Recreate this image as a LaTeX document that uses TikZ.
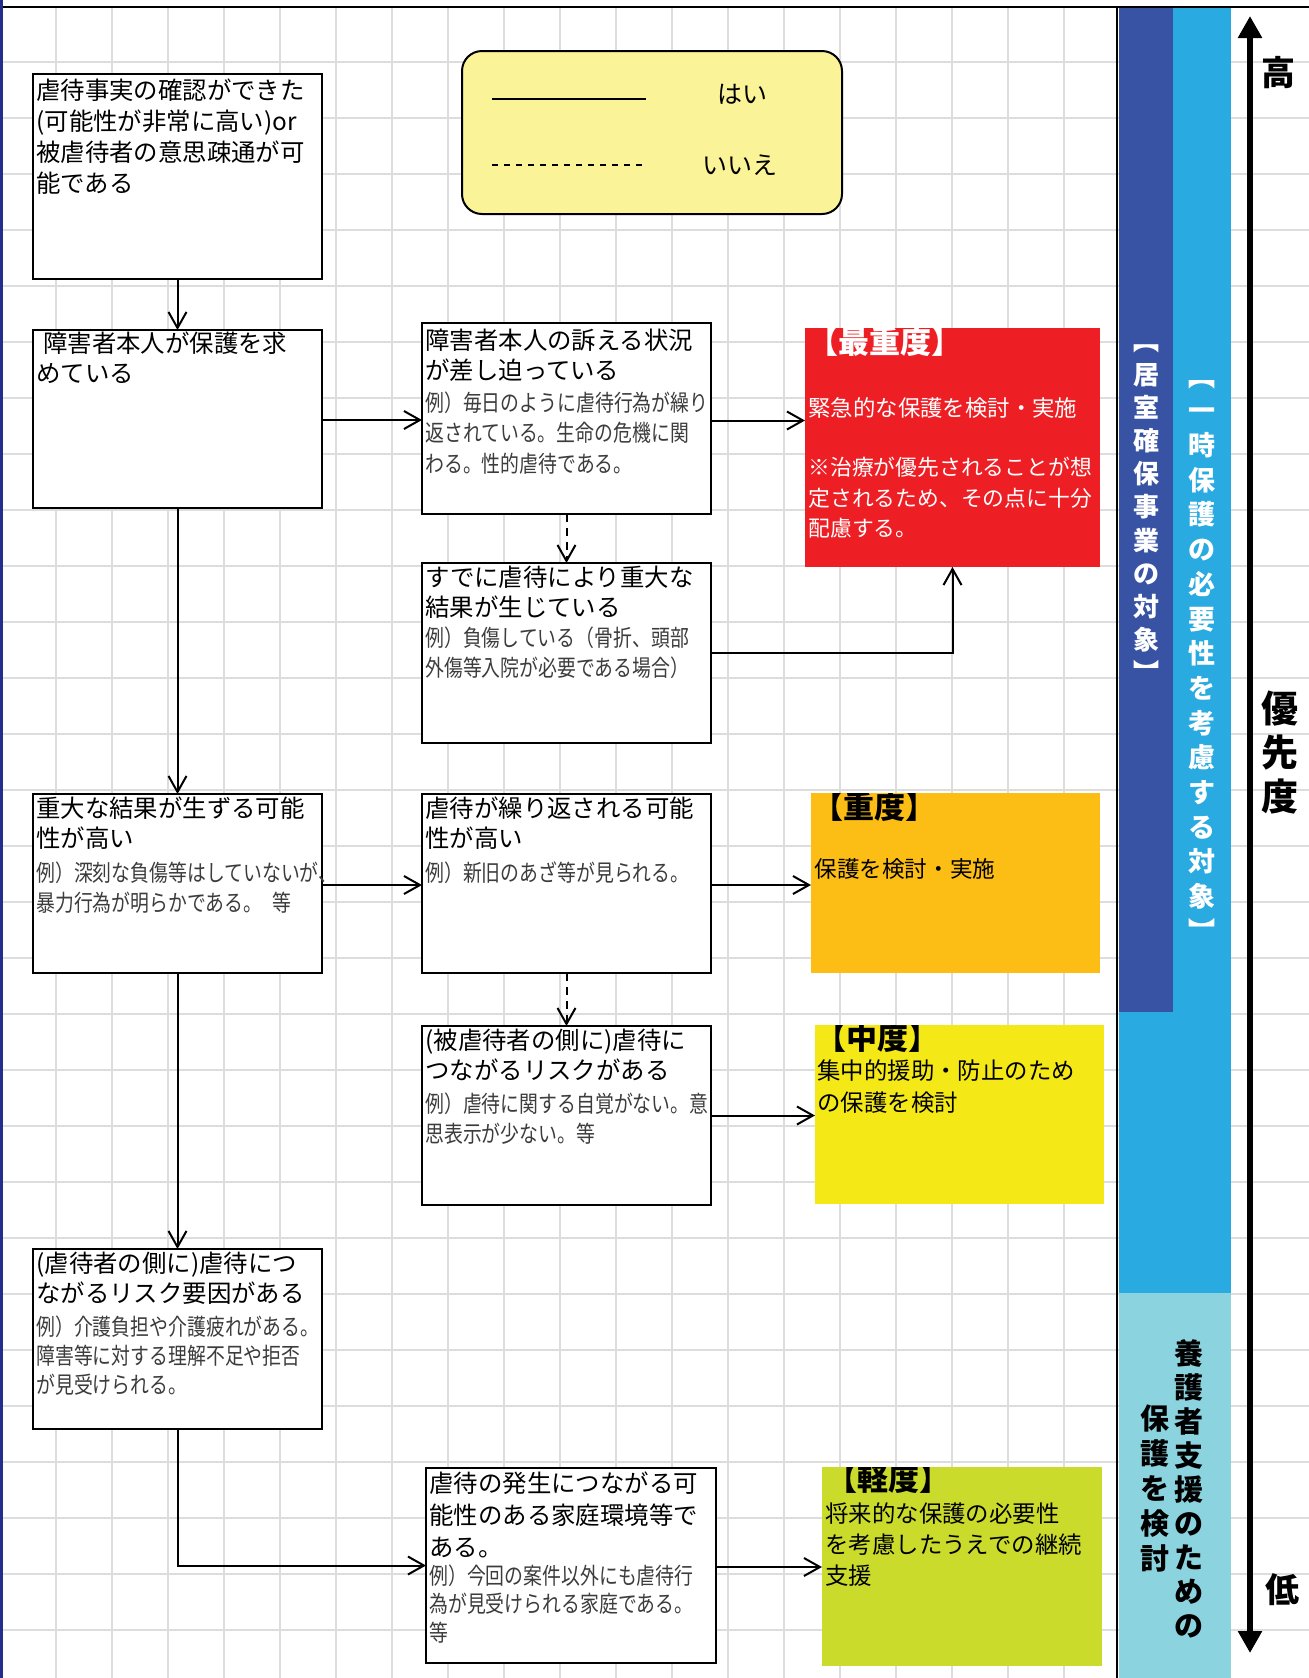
\documentclass[tikz,border=0pt]{standalone}
\usepackage{fontspec}
\usepackage{graphicx}
\setmainfont{Noto Sans CJK JP}
\newfontfamily\exfont[FakeStretch=0.82]{Noto Sans CJK JP}
\usetikzlibrary{arrows.meta}
\definecolor{gridc}{RGB}{221,221,221}
\definecolor{navyc}{RGB}{35,45,140}
\definecolor{redbox}{RGB}{237,30,36}
\definecolor{orangebox}{RGB}{252,190,20}
\definecolor{yellowbox}{RGB}{244,233,22}
\definecolor{greenbox}{RGB}{203,219,43}
\definecolor{legendc}{RGB}{250,243,152}
\definecolor{bandA}{RGB}{57,83,164}
\definecolor{bandB}{RGB}{41,170,225}
\definecolor{bandC}{RGB}{140,211,224}
\definecolor{exgray}{RGB}{60,60,60}
\newcommand\fst{\rule{0pt}{0.88em}}
\newcommand\vst{\rule[-0.12em]{0pt}{1em}}
\begin{document}
\begin{tikzpicture}[x=0.5pt,y=-0.5pt,
  wbox/.style={draw=black, line width=1pt, fill=white, inner sep=0pt, outer sep=0pt},
  cbox/.style={inner sep=0pt, outer sep=0pt},
  head/.style={anchor=north west, inner sep=0pt, align=left, font=\fontsize{12.2}{15}\selectfont},
  exm/.style={anchor=north west, inner sep=0pt, align=left, text=exgray, font=\exfont\fontsize{11.5}{15}\selectfont},
  body/.style={anchor=north west, inner sep=0pt, align=left, font=\fontsize{11.5}{15.3}\selectfont},
  ttl/.style={anchor=north west, inner sep=0pt, font=\bfseries\fontsize{15.5}{18}\selectfont},
  conn/.style={line width=1pt, -{Straight Barb[length=8pt,width=9pt]}},
  dconn/.style={conn, dash pattern=on 4pt off 3pt},
  vlabel/.style={align=center, inner sep=0pt, font=\bfseries\fontsize{13}{16.6}\selectfont}]
\useasboundingbox (0,0) rectangle (1309,1678);
% grid
\foreach \k in {1,...,19} \draw[gridc, line width=1.3pt] (56*\k,8) -- (56*\k,1678);
\foreach \k in {1,...,29} \draw[gridc, line width=1.3pt] (0,6+56*\k) -- (1309,6+56*\k);
% frame lines
\draw[black, line width=1.35pt] (0,7) -- (1309,7);
\draw[navyc, line width=1.5pt] (1.5,0) -- (1.5,1678);
% bands
\fill[bandB] (1119,8) rectangle (1231,1293);
\fill[bandA] (1119,8) rectangle (1173,1012);
\fill[bandC] (1119,1293) rectangle (1231,1678);
\draw[black, line width=1pt] (1117,8) -- (1117,1678);
\node[vlabel, text=white] (lblA) at (1146,507) {\vst{}︻\\居\\室\\確\\保\\事\\業\\の\\対\\象\\\vst{}︼};
\node[vlabel, text=white, font=\bfseries\fontsize{13.5}{17.35}\selectfont] (lblB) at (1202,653.5) {\vst{}︻\\一\\時\\保\\護\\の\\必\\要\\性\\を\\考\\慮\\す\\る\\対\\象\\\vst{}︼};
\node[vlabel, text=black, font=\bfseries\fontsize{14.5}{16.95}\selectfont] (lblC1) at (1189,1489.5) {\vst{}養\\護\\者\\支\\援\\の\\た\\め\\\vst{}の};
\node[vlabel, text=black, font=\bfseries\fontsize{14.5}{17.4}\selectfont] (lblC2) at (1155,1488.5) {\vst{}保\\護\\を\\検\\\vst{}討};
% priority arrow
\coordinate (arT) at (1250,16);
\coordinate (arB) at (1250,1653);
\draw[line width=2.9pt, {Triangle[length=11pt,width=11.5pt]}-{Triangle[length=11pt,width=11.5pt]}] (arT) -- (arB);
\node[inner sep=0pt, font=\bfseries\fontsize{17}{20}\selectfont] (hi) at (1278,73) {高};
\node[inner sep=0pt, align=center, font=\bfseries\fontsize{18.5}{22}\selectfont] (prio) at (1280,752) {\vst{}優\\先\\\vst{}度};
\node[inner sep=0pt, font=\bfseries\fontsize{17}{20}\selectfont] (lo) at (1282,1590) {低};
% legend
\node[draw=black, line width=1pt, fill=legendc, rounded corners=10pt, minimum width=190pt, minimum height=81.5pt, inner sep=0pt] (legend) at (652,132.5) {};
\coordinate (ly1) at (492,99); \coordinate (ly2) at (646,99);
\coordinate (ln1) at (492,165); \coordinate (ln2) at (646,165);
\draw[line width=1pt] (ly1) -- (ly2);
\draw[line width=1pt, dash pattern=on 3pt off 3pt] (ln1) -- (ln2);
\node[inner sep=0pt, font=\fontsize{12.5}{15}\selectfont] (yes) at (742,94) {はい};
\node[inner sep=0pt, font=\fontsize{12.5}{15}\selectfont] (no) at (740,165) {いいえ};
% white boxes
\node[wbox, minimum width=144.5pt, minimum height=102.5pt] (B1) at (177.5,176.5) {};
\node[wbox, minimum width=144.5pt, minimum height=89pt] (B2) at (177.5,419) {};
\node[wbox, minimum width=144.5pt, minimum height=95.5pt] (B3) at (566.5,418.5) {};
\node[wbox, minimum width=144.5pt, minimum height=90pt] (B4) at (566.5,653) {};
\node[wbox, minimum width=144.5pt, minimum height=89.5pt] (B5) at (177.5,883.5) {};
\node[wbox, minimum width=144.5pt, minimum height=89.5pt] (B6) at (566.5,883.5) {};
\node[wbox, minimum width=144.5pt, minimum height=89.5pt] (B7) at (566.5,1115.5) {};
\node[wbox, minimum width=144.5pt, minimum height=90pt] (B8) at (177.5,1339) {};
\node[wbox, minimum width=145pt, minimum height=97.5pt] (B9) at (571,1565.5) {};
% coloured boxes
\node[cbox, fill=redbox, minimum width=147.5pt, minimum height=119.5pt] (R) at (952.5,447.5) {};
\node[cbox, fill=orangebox, minimum width=144.5pt, minimum height=90pt] (O) at (955.5,883) {};
\node[cbox, fill=yellowbox, minimum width=144.5pt, minimum height=89.5pt] (Y) at (959.5,1114.5) {};
\node[cbox, fill=greenbox, minimum width=140pt, minimum height=99.5pt] (G) at (962,1566.5) {};
% texts in white boxes
\node[head, font=\fontsize{12.2}{15.5}\selectfont] (t1) at (36,78) {\fst{}虐待事実の確認ができた\\(可能性が非常に高い)or\\被虐待者の意思疎通が可\\能である};
\node[head] (t2) at (36,331) {\fst\hspace{3.5pt}障害者本人が保護を求\\めている};
\node[head] (t3) at (425,328) {\fst{}障害者本人の訴える状況\\が差し迫っている};
\node[exm, font=\exfont\fontsize{11.5}{15.25}\selectfont] (e3) at (425,390.5) {\fst{}例）毎日のように虐待行為が繰り\\返されている。生命の危機に関\\わる。性的虐待である。};
\node[head] (t4) at (425,565) {\fst{}すでに虐待により重大な\\結果が生じている};
\node[exm] (e4) at (425,625.5) {\fst{}例）負傷している（骨折、頭部\\外傷等入院が必要である場合）};
\node[head] (t5) at (36,796) {\fst{}重大な結果が生ずる可能\\性が高い};
\node[exm] (e5) at (36,860.5) {\fst{}例）深刻な負傷等はしていないが、\\暴力行為が明らかである。\hspace{5pt}等};
\node[head] (t6) at (425,796) {\fst{}虐待が繰り返される可能\\性が高い};
\node[exm] (e6) at (425,860.5) {\fst{}例）新旧のあざ等が見られる。};
\node[head] (t7) at (425,1028) {\fst{}(被虐待者の側に)虐待に\\つながるリスクがある};
\node[exm] (e7) at (425,1091.5) {\fst{}例）虐待に関する自覚がない。意\\思表示が少ない。等};
\node[head] (t8) at (36,1251) {\fst{}(虐待者の側に)虐待につ\\ながるリスク要因がある};
\node[exm, font=\exfont\fontsize{11.5}{14.5}\selectfont] (e8) at (36,1314.5) {\fst{}例）介護負担や介護疲れがある。\\障害等に対する理解不足や拒否\\が見受けられる。};
\node[head, font=\fontsize{12.2}{16}\selectfont] (t9) at (429,1471) {\fst{}虐待の発生につながる可\\能性のある家庭環境等で\\ある。};
\node[exm, font=\exfont\fontsize{11.5}{14.3}\selectfont] (e9) at (429,1563.5) {\fst{}例）今回の案件以外にも虐待行\\為が見受けられる家庭である。\\等};
% texts in coloured boxes
\begin{scope}
\clip (R.north west) rectangle (R.south east);
\node[ttl, text=white] (tr) at (807,326.5) {【最重度】};
\end{scope}
\node[body, text=white, font=\fontsize{11.2}{15.25}\selectfont] (br1) at (808,396) {\fst{}緊急的な保護を検討・実施};
\node[body, text=white, font=\fontsize{10.9}{15.25}\selectfont] (br2) at (808,456) {\fst{}※治療が優先されることが想\\定されるため、その点に十分\\配慮する。};
\begin{scope}
\clip (O.north west) rectangle (O.south east);
\node[ttl] (to) at (812,791.5) {【重度】};
\end{scope}
\node[body, font=\fontsize{11.3}{15}\selectfont] (bo) at (814,857.5) {\fst{}保護を検討・実施};
\begin{scope}
\clip (Y.north west) rectangle (Y.south east);
\node[ttl] (ty) at (815,1022.5) {【中度】};
\end{scope}
\node[body, font=\fontsize{11.7}{16}\selectfont] (by) at (817,1058.5) {\fst{}集中的援助・防止のため\\の保護を検討};
\begin{scope}
\clip (G.north west) rectangle (G.south east);
\node[ttl] (tg) at (826,1463.5) {【軽度】};
\end{scope}
\node[body, font=\fontsize{11.7}{15.5}\selectfont] (bg) at (825,1501.5) {\fst{}将来的な保護の必要性\\を考慮したうえでの継続\\支援};
% connectors
\draw[conn] (B1.south) -- (B2.north);
\draw[conn] (B2.south) -- (B5.north);
\draw[conn] (B5.south) -- (B8.north);
\draw[conn] ([yshift=-0.5pt]B2.east) -- ([yshift=-0.5pt]B2.east -| B3.west);
\draw[conn] ([yshift=-1pt]B3.east) -- ([yshift=-1pt]B3.east -| R.west);
\draw[dconn] (B3.south) -- (B4.north);
\draw[conn] (B4.east) -| (R.south);
\draw[conn] ([yshift=-0.75pt]B5.east) -- ([yshift=-0.75pt]B5.east -| B6.west);
\draw[conn] ([yshift=-0.75pt]B6.east) -- ([yshift=-0.75pt]B6.east -| O.west);
\draw[dconn] (B6.south) -- (B7.north);
\draw[conn] (B7.east) -- (B7.east -| Y.west);
\draw[conn] (B8.south) |- (B9.west);
\draw[conn] ([yshift=-0.75pt]B9.east) -- ([yshift=-0.75pt]B9.east -| G.west);
\end{tikzpicture}
\end{document}
